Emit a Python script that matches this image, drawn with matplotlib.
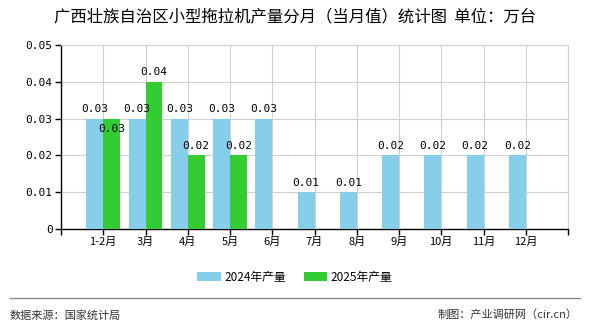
import matplotlib
matplotlib.use("Agg")
import matplotlib.pyplot as plt
import numpy as np

plt.rcParams['font.family'] = ['Noto Sans CJK SC', 'DejaVu Sans']

months = ['1-2月', '3月', '4月', '5月', '6月', '7月', '8月', '9月', '10月', '11月', '12月']
v2024 = [0.03, 0.03, 0.03, 0.03, 0.03, 0.01, 0.01, 0.02, 0.02, 0.02, 0.02]
v2025 = [0.03, 0.04, 0.02, 0.02]

c2024 = '#87CEEB'
c2025 = '#33CC33'

fig = plt.figure(figsize=(5.9, 3.3), dpi=100)
ax = fig.add_axes([61/590, 1-229/330, (568-61)/590, (229-45)/330])

x = np.arange(len(months))
w = 0.4
ax.bar(x - w/2, v2024, w, color=c2024, label='2024年产量', zorder=3)
ax.bar(x[:len(v2025)] + w/2, v2025, w, color=c2025, label='2025年产量', zorder=3)

for i, v in enumerate(v2024):
    ax.text(x[i] - w/2, v + 0.0012, '%.2f' % v, ha='center', va='bottom',
            fontsize=8, family='DejaVu Sans Mono', zorder=4)
for i, v in enumerate(v2025):
    # first green label sits lower to avoid overlapping the blue one
    dy = -0.0042 if i == 0 else 0.0012
    ax.text(x[i] + w/2, v + dy, '%.2f' % v, ha='center', va='bottom',
            fontsize=8, family='DejaVu Sans Mono', zorder=4)

ax.set_xlim(-1, len(months))
ax.set_ylim(0, 0.05)
ax.set_yticks(np.arange(0, 0.051, 0.01))
ax.set_yticklabels(['0', '0.01', '0.02', '0.03', '0.04', '0.05'],
                   family='DejaVu Sans Mono', fontsize=8)
ax.set_xticks(np.arange(-1, len(months) + 1))
ax.set_xticklabels([''] + months + [''], fontsize=8)
ax.grid(True, color='#d0d0d0', linewidth=0.8, zorder=0)
ax.tick_params(axis='both', length=4, width=1, color='black', pad=2)
for s in ['top', 'right']:
    ax.spines[s].set_color('#d0d0d0')
    ax.spines[s].set_linewidth(0.8)
for s in ['left', 'bottom']:
    ax.spines[s].set_color('black')
    ax.spines[s].set_linewidth(1)

fig.text(0.5, 1-17/330, '广西壮族自治区小型拖拉机产量分月（当月值）统计图  单位：万台',
         ha='center', va='center', fontsize=11.8)

fig.legend(loc='center', bbox_to_anchor=(0.5, 1-277/330), ncol=2, frameon=False,
           fontsize=8.5, handlelength=2, handleheight=0.8, columnspacing=1.5,
           handletextpad=0.3)

fig.add_artist(plt.Line2D([10/590, 580/590], [1-298/330, 1-298/330],
                          color='#888888', linewidth=1))
fig.text(10/590, 1-315/330, '数据来源：国家统计局', ha='left', va='center',
         fontsize=8, color='#333333')
fig.text(578/590, 1-315/330, '制图：产业调研网（cir.cn）', ha='right', va='center',
         fontsize=8, color='#333333')

fig.savefig('out.png', dpi=100)
